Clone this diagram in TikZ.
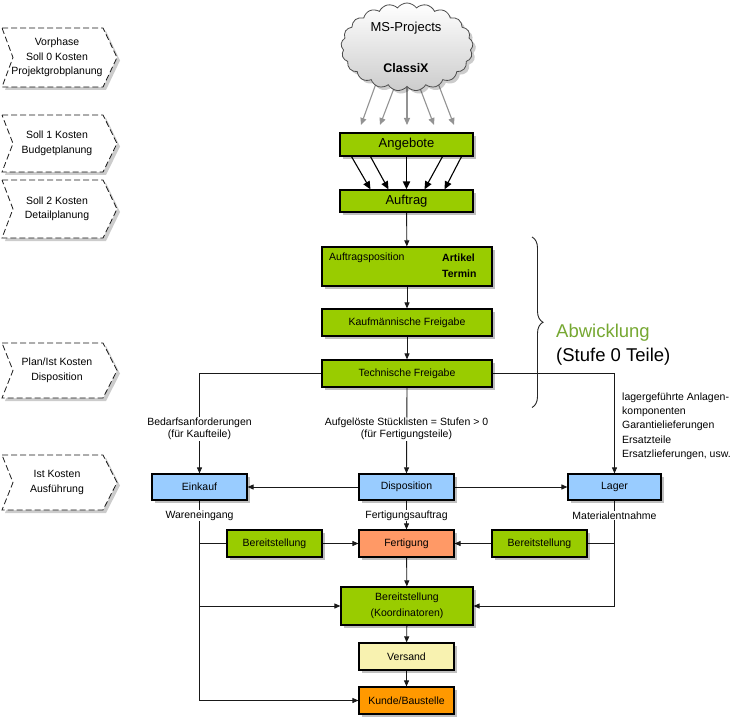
\documentclass[tikz,border=0pt]{standalone}
\usepackage{fontspec}
\setmainfont{Liberation Sans}
\usetikzlibrary{arrows.meta,shapes.symbols,shadows,decorations.pathreplacing,backgrounds}
\definecolor{boxgreen}{HTML}{99CC00}
\definecolor{boxblue}{HTML}{99CCFF}
\definecolor{boxsalmon}{HTML}{FF9966}
\definecolor{boxorange}{HTML}{FF9900}
\definecolor{boxyellow}{HTML}{F8F2B0}
\definecolor{abwgreen}{HTML}{76A832}
\newcommand{\chevpath}[2]{(2,#1) -- (103,#1) -- (117,{(#1+#2)/2}) -- (103,#2) -- (2,#2) -- (13,{(#1+#2)/2}) -- cycle}
\tikzset{
  box/.style={draw=black, line width=1.2pt, inner sep=0pt, align=center,
    drop shadow={shadow xshift=3pt, shadow yshift=-3pt, fill=black, opacity=.25},
    font=\fontsize{10.5}{13}\selectfont},
  gbox/.style={box, fill=boxgreen},
  bbox/.style={box, fill=boxblue},
  lbl/.style={inner sep=1pt, align=center, fill=white, font=\fontsize{10.5}{12.5}\selectfont},
  phasetext/.style={align=center, inner sep=0pt, font=\fontsize{10.5}{14.5}\selectfont},
  conn/.style={draw=black!90, line width=0.9pt},
  arr/.style={conn, -{Triangle[length=6pt,width=5pt]}},
  grayarr/.style={draw=gray!85, line width=1.1pt, -{Triangle[length=7pt,width=6pt]}},
  bigarr/.style={draw=black, line width=1.1pt, -{Triangle[length=8pt,width=7pt]}},
  chevshadow/.style={fill=black, opacity=.2},
  chev/.style={draw=black!90, fill=white, line width=0.8pt, dash pattern=on 6pt off 3pt},
}
\begin{document}
\begin{tikzpicture}[x=1pt,y=-1pt]
\useasboundingbox (0,0) rectangle (735,719);

% phase chevrons
\foreach \ya/\yb in {28/87, 115/172, 180/238, 343/398, 455/510}{
  \fill[chevshadow, shift={(3,3)}] \chevpath{\ya}{\yb};
  \draw[chev] \chevpath{\ya}{\yb};
}
\node[phasetext] (ph1) at (57,57.5) {Vorphase\\Soll 0 Kosten\\Projektgrobplanung};
\node[phasetext] (ph2) at (57,143.5) {Soll 1 Kosten\\Budgetplanung};
\node[phasetext] (ph3) at (57,209) {Soll 2 Kosten\\Detailplanung};
\node[phasetext] (ph4) at (57,370.5) {Plan/Ist Kosten\\Disposition};
\node[phasetext] (ph5) at (57,482.5) {Ist Kosten\\Ausführung};

% cloud
\node[cloud, cloud puffs=21, cloud puff arc=110, aspect=1.5, minimum width=132pt, minimum height=88pt,
  draw=black!70, line width=0.8pt, top color=white, bottom color=gray!40,
  drop shadow={shadow xshift=3pt, shadow yshift=-3pt, fill=black, opacity=.2}] (cl) at (407,47) {};
\node[font=\fontsize{13}{15}\selectfont] (msp) at (406,28) {MS-Projects};
\node[font=\fontsize{12.5}{15}\selectfont\bfseries] (cx) at (406,68) {ClassiX};

% boxes
\node[gbox, minimum width=133pt, minimum height=23pt, font=\fontsize{13}{15}\selectfont] (ang) at (406.5,144.5) {Angebote};
\node[gbox, minimum width=133pt, minimum height=22pt, font=\fontsize{13}{15}\selectfont] (auf) at (406.5,201) {Auftrag};
\node[gbox, minimum width=170pt, minimum height=39pt] (apos) at (407,266.5) {};
\node[anchor=west, inner sep=0pt, font=\fontsize{10.5}{13}\selectfont] (apt) at (329,258) {Auftragsposition};
\node[anchor=north west, inner sep=0pt, align=left, font=\fontsize{10.5}{16.5}\selectfont\bfseries] (art) at (442,253.5) {Artikel\\Termin};
\node[gbox, minimum width=170pt, minimum height=27pt] (kf) at (407,322.5) {Kaufmännische Freigabe};
\node[gbox, minimum width=170pt, minimum height=27pt] (tf) at (407,373.5) {Technische Freigabe};

\node[bbox, minimum width=95pt, minimum height=26pt] (ein) at (199.5,487) {Einkauf};
\node[bbox, minimum width=95pt, minimum height=26pt] (dis) at (406.5,487) {Disposition};
\node[bbox, minimum width=93pt, minimum height=26pt] (lag) at (614.5,487) {Lager};

\node[gbox, minimum width=95pt, minimum height=27pt] (bl) at (274.5,543.5) {Bereitstellung};
\node[box, fill=boxsalmon, minimum width=95pt, minimum height=27pt] (fer) at (406.5,543.5) {Fertigung};
\node[gbox, minimum width=95pt, minimum height=27pt] (br) at (539.5,543.5) {Bereitstellung};

\node[gbox, minimum width=132pt, minimum height=38pt, font=\fontsize{10.5}{16}\selectfont] (koo) at (407,606) {Bereitstellung\\(Koordinatoren)};
\node[box, fill=boxyellow, minimum width=95pt, minimum height=27pt] (ver) at (406.5,656.5) {Versand};
\node[box, fill=boxorange, minimum width=95pt, minimum height=27pt] (kun) at (406.5,700.5) {Kunde/Baustelle};

% labels
\node[lbl] (bed) at (199.5,429) {Bedarfsanforderungen\\(für Kaufteile)};
\node[lbl] (stl) at (406.5,429) {Aufgelöste Stücklisten = Stufen > 0\\(für Fertigungsteile)};
\node[anchor=north west, inner sep=0pt, align=left, font=\fontsize{10.5}{14.3}\selectfont] (lgt) at (622,392.5)
  {lagergeführte Anlagen-\\komponenten\\Garantielieferungen\\Ersatzteile\\Ersatzlieferungen, usw.};
\node[lbl] (wei) at (199.5,515.5) {Wareneingang};
\node[lbl] (fau) at (406.5,515.5) {Fertigungsauftrag};
\node[lbl] (men) at (614.5,515.5) {Materialentnahme};

\node[anchor=west, inner sep=0pt, align=left, font=\fontsize{18.5}{24}\selectfont] (abw) at (556,345)
  {\textcolor{abwgreen}{Abwicklung}\\(Stufe 0 Teile)};

% brace
\coordinate (brt) at (532,237);
\coordinate (brb) at (532,407.5);

% cloud arrow ends
\coordinate (s1) at (378,78);  \coordinate (e1) at (361,125);
\coordinate (s2) at (396,83);  \coordinate (e2) at (380,125);
\coordinate (s3) at (407,86);  \coordinate (e3) at (407,125);
\coordinate (s4) at (418,83);  \coordinate (e4) at (434,125);
\coordinate (s5) at (436,78);  \coordinate (e5) at (454,125);

\begin{scope}[on background layer]
  \fill[white] (0,0) rectangle (735,719);
  \foreach \i in {1,...,5}{ \draw[grayarr] (s\i) -- (e\i); }
  \draw[bigarr] ([xshift=-55pt]ang.south) -- ([xshift=-36pt]auf.north);
  \draw[bigarr] ([xshift=-36pt]ang.south) -- ([xshift=-18pt]auf.north);
  \draw[bigarr, line width=1.8pt] (ang.south) -- (auf.north);
  \draw[bigarr] ([xshift=36pt]ang.south) -- ([xshift=18pt]auf.north);
  \draw[bigarr] ([xshift=55pt]ang.south) -- ([xshift=38pt]auf.north);

  \draw[arr] (auf) -- (apos);
  \draw[arr] (apos) -- (kf);
  \draw[arr] (kf) -- (tf);
  \draw[arr] (tf.west) -| (ein.north);
  \draw[arr] (tf.east) -| (lag.north);
  \draw[arr] (tf.south) -- (dis.north);
  \draw[arr] (dis.west) -- (ein.east);
  \draw[arr] (dis.east) -- (lag.west);
  \draw[arr] (dis.south) -- (fer.north);
  \draw[arr] (ein.south) |- (kun.west);
  \draw[conn] (ein.south |- bl.west) -- (bl.west);
  \draw[arr] (bl.east) -- (fer.west);
  \draw[arr] (ein.south |- koo.west) -- (koo.west);
  \draw[arr] (lag.south) |- (koo.east);
  \draw[conn] (lag.south |- br.east) -- (br.east);
  \draw[arr] (br.west) -- (fer.east);
  \draw[arr] (fer) -- (koo);
  \draw[arr] (koo) -- (ver);
  \draw[arr] (ver) -- (kun);
  \draw[draw=black!85, line width=0.9pt, decorate, decoration={brace, amplitude=11pt}] (brt) -- (brb);
\end{scope}
\end{tikzpicture}
\end{document}
